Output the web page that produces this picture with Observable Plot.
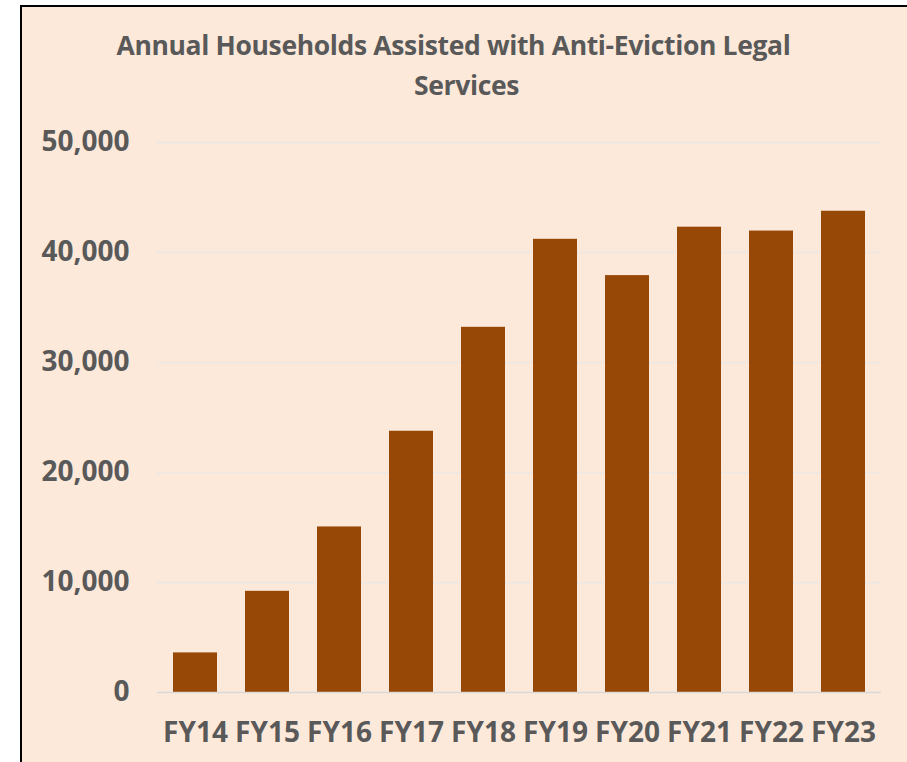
<!DOCTYPE html>
<html>
<head>
<meta charset="utf-8">
<script src="https://cdn.jsdelivr.net/npm/d3@7"></script>
<script src="https://cdn.jsdelivr.net/npm/@observablehq/plot@0.6"></script>
<style>
  html, body { margin: 0; padding: 0; background: #ffffff; width: 907px; height: 762px; overflow: hidden; }
  #frame { position: absolute; left: 20px; top: 5px; width: 900px; height: 770px;
           border-left: 2px solid #000; border-top: 2px solid #000; background: #FDE9D9; }
  .title { position: absolute; width: 907px; text-align: center; font-family: "Open Sans", Lato, sans-serif;
           font-weight: bold; font-size: 26.5px; color: #595959; line-height: 28px; white-space: nowrap; letter-spacing: -0.35px; }
  #chart { position: absolute; left: 0; top: 0; }
</style>
</head>
<body>
<div id="frame"></div>
<div class="title" id="t1" style="left:0px; top:31px;">Annual Households Assisted with Anti-Eviction Legal</div>
<div class="title" id="t2" style="left:13px; top:71px;">Services</div>
<div id="chart"></div>
<script>
const categories = ["FY14", "FY15", "FY16", "FY17", "FY18", "FY19", "FY20", "FY21", "FY22", "FY23"];
const households = [3600, 9200, 15050, 23750, 33200, 41200, 37900, 42300, 41950, 43750];
const yTicks = [0, 10000, 20000, 30000, 40000, 50000];

const data = categories.map((c, i) => ({category: c, value: households[i]}));

const chart = Plot.plot({
  width: 907,
  height: 762,
  marginLeft: 157,
  marginRight: 26,
  marginTop: 142,
  marginBottom: 70,
  style: {background: "transparent", fontFamily: "'Open Sans', Lato, sans-serif", fontWeight: "bold", fontSize: "28px", color: "#595959"},
  x: {domain: categories, paddingInner: 0.39, paddingOuter: 0.2, label: null, tickSize: 0, tickPadding: 30},
  y: {domain: [0, 50000], ticks: yTicks, tickFormat: d3.format(","), label: null, tickSize: 0, tickPadding: 28},
  marks: [
    Plot.ruleY(yTicks.filter(d => d > 0), {stroke: "#ECE8E6", strokeWidth: 1.5, strokeOpacity: 1}),
    Plot.barY(data, {x: "category", y: "value", fill: "#974806"}),
    Plot.ruleY([0], {stroke: "#D9D9D9", strokeWidth: 1.5, strokeOpacity: 1})
  ]
});
document.getElementById("chart").appendChild(chart);
</script>
</body>
</html>
